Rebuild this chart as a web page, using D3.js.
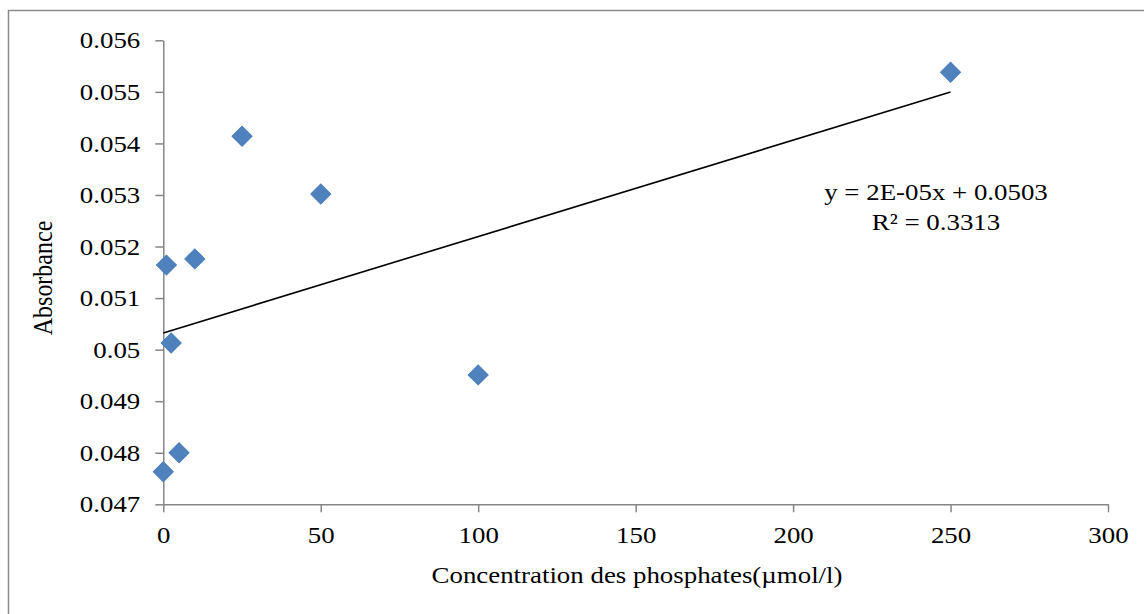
<!DOCTYPE html>
<html>
<head>
<meta charset="utf-8">
<script src="https://cdn.jsdelivr.net/npm/d3@7"></script>
<style>
  html, body { margin: 0; padding: 0; background: #fff; }
  svg { display: block; }
  text { font-family: "Liberation Serif", "Times New Roman", serif; fill: #000; }
</style>
</head>
<body>
<svg id="chart" width="1144" height="614"></svg>
<script>
// ---- data ----
const concentrations = [0, 1, 2.5, 5, 10, 25, 50, 100, 250];
const absorbances = [0.04763, 0.05164, 0.05013, 0.04800, 0.05176, 0.05414, 0.05302, 0.04951, 0.05538];
const xTicks = [0, 50, 100, 150, 200, 250, 300];
const yTicks = [0.047, 0.048, 0.049, 0.05, 0.051, 0.052, 0.053, 0.054, 0.055, 0.056];
const yTickLabels = ["0.047", "0.048", "0.049", "0.05", "0.051", "0.052", "0.053", "0.054", "0.055", "0.056"];
const xTitle = "Concentration des phosphates(µmol/l)";
const yTitle = "Absorbance";
const equationLines = ["y = 2E-05x + 0.0503", "R² = 0.3313"];

const svg = d3.select("#chart");
const axisColor = "#868686";
const FS = 24, SX = 1.12;

// outer border
svg.append("rect").attr("x", 8.5).attr("y", 10.5).attr("width", 1160).attr("height", 620)
  .attr("fill", "none").attr("stroke", "#8c8c8c").attr("stroke-width", 1.5);

const x = d3.scaleLinear().domain([0, 300]).range([163.3, 1108]);
const y = d3.scaleLinear().domain([0.047, 0.056]).range([504.3, 40.3]);

function stretchText(sel) {
  sel.each(function () {
    const t = d3.select(this);
    const tx = +t.attr("x") || 0, ty = +t.attr("y") || 0;
    t.attr("x", 0).attr("y", 0)
      .attr("transform", `translate(${tx},${ty}) scale(${SX},1)`);
  });
}

// y axis
const yAxis = svg.append("g").attr("transform", `translate(${x(0)},0)`)
  .call(d3.axisLeft(y).tickValues(yTicks).tickSize(8).tickSizeOuter(0)
    .tickFormat((d, i) => yTickLabels[i]).tickPadding(15));
yAxis.attr("font-family", null);
yAxis.select(".domain").attr("stroke", axisColor).attr("stroke-width", 1.5);
yAxis.selectAll(".tick line").attr("stroke", axisColor).attr("stroke-width", 1.5);
yAxis.selectAll(".tick text").attr("font-size", FS).attr("fill", "#000").call(stretchText);

// x axis
const xAxis = svg.append("g").attr("transform", `translate(0,${y(0.047)})`)
  .call(d3.axisBottom(x).tickValues(xTicks).tickSize(8).tickSizeOuter(0)
    .tickFormat(d3.format("d")).tickPadding(14));
xAxis.attr("font-family", null);
xAxis.select(".domain").attr("stroke", axisColor).attr("stroke-width", 1.5);
xAxis.selectAll(".tick line").attr("stroke", axisColor).attr("stroke-width", 1.5);
xAxis.selectAll(".tick text").attr("font-size", FS).attr("fill", "#000").call(stretchText);

// linear regression trendline from data
const n = concentrations.length;
const mx = d3.mean(concentrations), my = d3.mean(absorbances);
let sxy = 0, sxx = 0;
for (let i = 0; i < n; i++) {
  sxy += (concentrations[i] - mx) * (absorbances[i] - my);
  sxx += (concentrations[i] - mx) ** 2;
}
const slope = sxy / sxx, intercept = my - slope * mx;
const x0 = d3.min(concentrations), x1 = d3.max(concentrations);
svg.append("line")
  .attr("x1", x(x0)).attr("y1", y(intercept + slope * x0))
  .attr("x2", x(x1)).attr("y2", y(intercept + slope * x1))
  .attr("stroke", "#000").attr("stroke-width", 1.6);

// markers (diamonds)
const diamond = d3.symbol().type(d3.symbolSquare).size(200);
svg.append("g").selectAll("path").data(concentrations).join("path")
  .attr("d", diamond)
  .attr("transform", (d, i) => `translate(${x(d)},${y(absorbances[i])}) rotate(45)`)
  .attr("fill", "#4F81BD").attr("stroke", "#4A7EBB").attr("stroke-width", 1);

// equation
svg.append("text").attr("transform", `translate(936,200) scale(${SX},1)`).attr("text-anchor", "middle")
  .attr("font-size", FS).text(equationLines[0]);
svg.append("text").attr("transform", `translate(936,230) scale(${SX},1)`).attr("text-anchor", "middle")
  .attr("font-size", FS).text(equationLines[1]);

// axis titles
svg.append("text").attr("transform", `translate(637,583) scale(${SX},1)`).attr("text-anchor", "middle")
  .attr("font-size", FS).text(xTitle);
svg.append("text").attr("transform", `translate(52,278) rotate(-90) scale(1,${SX})`)
  .attr("text-anchor", "middle").attr("font-size", FS).text(yTitle);
</script>
</body>
</html>
